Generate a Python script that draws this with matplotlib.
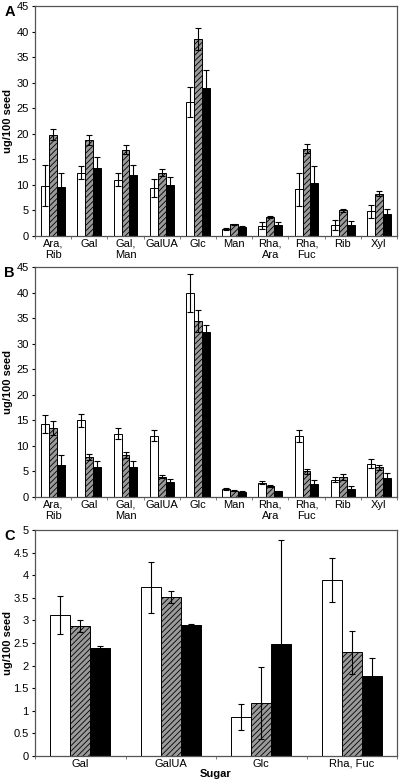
import matplotlib.pyplot as plt
import numpy as np

plt.rcParams['font.family'] = ['Liberation Sans', 'DejaVu Sans']
plt.rcParams['hatch.linewidth'] = 0.6
plt.rcParams['hatch.color'] = '#4a4a4a'

sugars_ab = ['Ara,\nRib', 'Gal', 'Gal,\nMan', 'GalUA', 'Glc', 'Man',
             'Rha,\nAra', 'Rha,\nFuc', 'Rib', 'Xyl']
sugars_c = ['Gal', 'GalUA', 'Glc', 'Rha, Fuc']

# panel A
a_white = [9.8, 12.4, 11.0, 9.4, 26.2, 1.4, 2.0, 9.1, 2.1, 4.8]
a_white_err = [4.0, 1.3, 1.3, 1.7, 3.0, 0.2, 0.7, 3.2, 1.0, 1.3]
a_hatch = [19.8, 18.8, 16.9, 12.4, 38.5, 2.3, 3.7, 17.1, 5.0, 8.3]
a_hatch_err = [1.1, 0.9, 0.9, 0.7, 2.2, 0.1, 0.2, 0.9, 0.3, 0.5]
a_black = [9.5, 13.3, 11.9, 10.0, 29.0, 1.8, 2.2, 10.4, 2.1, 4.4]
a_black_err = [2.9, 2.1, 2.0, 1.5, 3.4, 0.2, 0.6, 3.2, 0.8, 0.9]

# panel B
b_white = [14.3, 15.0, 12.4, 12.0, 39.9, 1.6, 2.8, 12.0, 3.4, 6.5]
b_white_err = [1.8, 1.3, 1.1, 1.1, 3.8, 0.2, 0.3, 1.2, 0.5, 0.9]
b_hatch = [13.5, 7.9, 8.2, 4.0, 34.4, 1.2, 2.1, 5.0, 3.9, 5.8]
b_hatch_err = [1.4, 0.6, 0.6, 0.3, 2.2, 0.1, 0.2, 0.5, 0.5, 0.5]
b_black = [6.3, 5.9, 5.8, 3.0, 32.2, 1.0, 1.1, 2.5, 1.6, 3.7]
b_black_err = [1.9, 1.2, 1.3, 0.6, 1.4, 0.2, 0.1, 0.8, 0.5, 0.9]

# panel C
c_white = [3.12, 3.73, 0.87, 3.89]
c_white_err = [0.43, 0.56, 0.29, 0.49]
c_hatch = [2.88, 3.52, 1.18, 2.29]
c_hatch_err = [0.13, 0.13, 0.80, 0.47]
c_black = [2.40, 2.90, 2.47, 1.77]
c_black_err = [0.03, 0.03, 2.32, 0.39]


def draw(ax, labels, series, ymax, ystep, letter):
    x = np.arange(len(labels))
    w = 0.22
    styles = [dict(color='white', edgecolor='black'),
              dict(color='#9a9a9a', edgecolor='black', hatch='//////'),
              dict(color='black', edgecolor='black')]
    for i, ((vals, errs), st) in enumerate(zip(series, styles)):
        ax.bar(x + (i - 1) * w, vals, w, linewidth=0.7, **st)
        ax.errorbar(x + (i - 1) * w, vals, yerr=errs, fmt='none',
                    ecolor='black', elinewidth=0.8, capsize=2, capthick=0.8)
    ax.set_xlim(-0.5, len(labels) - 0.5)
    ax.set_ylim(0, ymax)
    ticks = np.arange(0, ymax + ystep / 2, ystep)
    ax.set_yticks(ticks)
    ax.set_yticklabels(['%g' % v for v in ticks])
    ax.set_xticks(x)
    ax.set_xticklabels(labels, fontsize=8)
    ax.set_xticks(np.arange(-0.5, len(labels)), minor=True)
    ax.tick_params(axis='x', which='major', length=0, pad=2)
    ax.tick_params(axis='x', which='minor', length=2.5, color='#666666')
    ax.tick_params(axis='y', labelsize=8, length=2.5, pad=2)
    for s in ax.spines.values():
        s.set_color('#555555')
        s.set_linewidth(0.9)
    ax.set_ylabel('ug/100 seed', fontsize=8, fontweight='bold')
    ax.yaxis.set_label_coords(-0.062, 0.5)
    ax.text(-0.07, 0.975, letter, transform=ax.transAxes, fontsize=10.5,
            fontweight='bold', ha='center', va='center')


fig = plt.figure(figsize=(4.0, 7.83), dpi=100)
axA = fig.add_axes([0.0875, 0.6986, 0.905, 0.2937])
axB = fig.add_axes([0.0875, 0.3653, 0.905, 0.2937])
axC = fig.add_axes([0.0875, 0.0345, 0.905, 0.2886])

draw(axA, sugars_ab, [(a_white, a_white_err), (a_hatch, a_hatch_err),
                      (a_black, a_black_err)], 45, 5, 'A')
draw(axB, sugars_ab, [(b_white, b_white_err), (b_hatch, b_hatch_err),
                      (b_black, b_black_err)], 45, 5, 'B')
draw(axC, sugars_c, [(c_white, c_white_err), (c_hatch, c_hatch_err),
                     (c_black, c_black_err)], 5, 0.5, 'C')
axC.set_xlabel('Sugar', fontsize=8, fontweight='bold', labelpad=0)

fig.savefig('out.png', dpi=100)
